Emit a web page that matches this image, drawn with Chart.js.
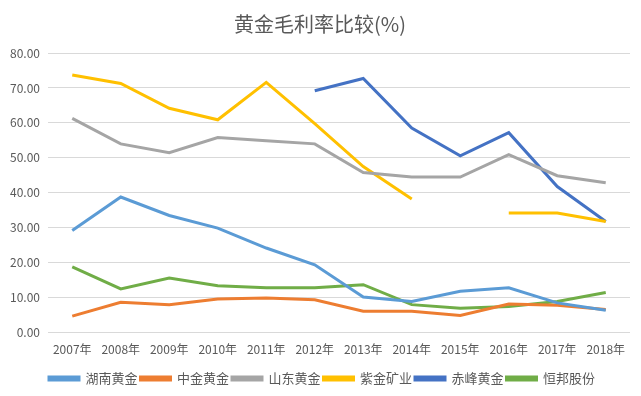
<!DOCTYPE html>
<html><head><meta charset="utf-8">
<script src="https://cdn.jsdelivr.net/npm/chart.js@4"></script>
<style>html,body{margin:0;padding:0;background:#fff}#wrap{width:641px;height:396px}</style>
</head><body><div id="wrap"><canvas id="c"></canvas></div>
<script>
const categories = ['2007年','2008年','2009年','2010年','2011年','2012年','2013年','2014年','2015年','2016年','2017年','2018年'];
const hunan    = [29.2, 38.8, 33.5, 29.9, 24.2, 19.4, 10.2, 8.9, 11.8, 12.8, 8.5, 6.4];
const zhongjin = [4.7, 8.7, 8.0, 9.6, 9.9, 9.4, 6.1, 6.1, 4.9, 8.2, 7.8, 6.6];
const shandong = [61.3, 54.0, 51.5, 55.8, 54.9, 54.0, 45.8, 44.5, 44.5, 50.9, 44.9, 42.9];
const zijin    = [73.7, 71.3, 64.2, 60.9, 71.6, 59.8, 47.5, 38.2, null, 34.2, 34.2, 31.8];
const chifeng  = [null, null, null, null, null, 69.2, 72.7, 58.5, 50.6, 57.2, 41.8, 31.8];
const hengbang = [18.8, 12.5, 15.6, 13.4, 12.8, 12.8, 13.7, 8.0, 7.0, 7.5, 8.9, 11.5];
const seriesNames = ['湖南黄金','中金黄金','山东黄金','紫金矿业','赤峰黄金','恒邦股份'];
const yTicks = [0, 10, 20, 30, 40, 50, 60, 70, 80];
const colors = ['#5B9BD5','#ED7D31','#A5A5A5','#FFC000','#4472C4','#70AD47'];
const values = [hunan, zhongjin, shandong, zijin, chifeng, hengbang];
const FONT = '"Noto Sans CJK SC", "Noto Sans", sans-serif';
const shiftBoxes = {
  id: 'shiftBoxes',
  afterLayout(chart) {
    const lg = chart.legend, tt = chart.titleBlock;
    if (lg) { lg.left += 7; lg.right += 7; }
    if (tt) { tt.left += 5; tt.right += 5; }
  }
};
new Chart(document.getElementById('c'), {
  type: 'line',
  data: {
    labels: categories,
    datasets: values.map((v, i) => ({
      label: seriesNames[i], data: v, borderColor: colors[i], backgroundColor: colors[i],
      borderWidth: 3, pointRadius: 0, tension: 0, spanGaps: false, fill: false
    }))
  },
  plugins: [shiftBoxes],
  options: {
    responsive: true, maintainAspectRatio: false, animation: false,
    layout: { padding: { left: 0, right: 11, top: 10, bottom: 1 } },
    plugins: {
      title: { display: true, text: '黄金毛利率比较(%)', color: '#595959',
        font: { family: FONT, size: 20, weight: 'normal' }, padding: { top: 2, bottom: 17 } },
      legend: { position: 'bottom',
        labels: { color: '#595959', font: { family: FONT, size: 13 }, boxWidth: 30, boxHeight: 3, padding: 3 } },
      tooltip: { enabled: false }
    },
    scales: {
      x: { offset: true, grid: { display: false, drawTicks: false }, border: { display: false },
        afterFit: s => { s.height += 2; },
        ticks: { color: '#595959', font: { family: FONT, size: 12 }, padding: 10, maxRotation: 0, autoSkip: false } },
      y: { min: 0, max: 80, afterFit: s => { s.width = 48; },
        afterBuildTicks: s => { s.ticks = yTicks.map(v => ({ value: v })); },
        grid: { color: '#D9D9D9', drawTicks: false }, border: { display: false },
        ticks: { color: '#595959', font: { family: FONT, size: 12 }, padding: 8,
          callback: v => Number(v).toFixed(2) } }
    }
  }
});
</script></body></html>
